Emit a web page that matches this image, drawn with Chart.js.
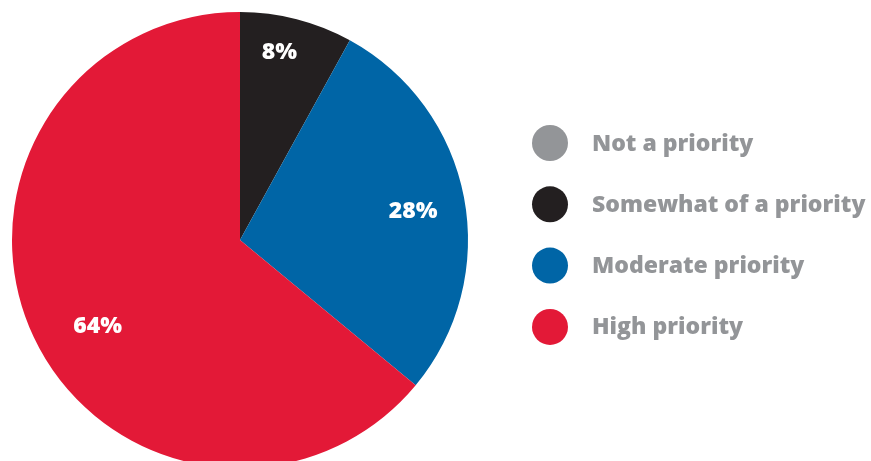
<!DOCTYPE html>
<html>
<head>
<meta charset="utf-8">
<script src="https://cdn.jsdelivr.net/npm/chart.js@4.4.0/dist/chart.umd.min.js"></script>
<style>
  html, body { margin: 0; padding: 0; background: #fff; overflow: hidden; }
  #wrap { position: relative; width: 871px; height: 480px; }
</style>
</head>
<body>
<div id="wrap"><canvas id="pie"></canvas></div>
<script>
'use strict';
let categories = ['Not a priority', 'Somewhat of a priority', 'Moderate priority', 'High priority'];
let values = [0, 8, 28, 64];
let colors = ['#939598', '#231f20', '#0065a6', '#e31937'];

// where each percent label sits: fraction of radius, and a nudge in degrees
let labelRadius = [0.8, 0.84, 0.77, 0.73];
let labelNudge = [0, -2.5, 1.3, -6];

let pctLabels = {
  id: 'pctLabels',
  afterDatasetsDraw(chart) {
    let ctx = chart.ctx;
    let meta = chart.getDatasetMeta(0);
    ctx.save();
    ctx.fillStyle = '#ffffff';
    ctx.font = '800 23px "Open Sans"';
    ctx.textAlign = 'center';
    ctx.textBaseline = 'middle';
    meta.data.forEach(function (arc, i) {
      if (!values[i]) return;
      let p = arc.getProps(['x', 'y', 'startAngle', 'endAngle', 'outerRadius']);
      let mid = (p.startAngle + p.endAngle) / 2 + labelNudge[i] * Math.PI / 180;
      let r = p.outerRadius * labelRadius[i];
      ctx.fillText(values[i] + '%', p.x + Math.cos(mid) * r, p.y + Math.sin(mid) * r);
    });
    ctx.restore();
  }
};

let sideLegend = {
  id: 'sideLegend',
  afterDraw(chart) {
    let ctx = chart.ctx;
    ctx.save();
    for (let i = 0; i < categories.length; i++) {
      let y = 143 + i * 61.3;
      ctx.beginPath();
      ctx.arc(550, y, 18, 0, Math.PI * 2);
      ctx.fillStyle = colors[i];
      ctx.fill();
      ctx.fillStyle = '#939598';
      ctx.font = '800 23px "Open Sans"';
      ctx.textAlign = 'left';
      ctx.textBaseline = 'middle';
      ctx.fillText(categories[i], 592, y + 1);
    }
    ctx.restore();
  }
};

let chart = new Chart(document.getElementById('pie'), {
  type: 'pie',
  data: {
    labels: categories,
    datasets: [{
      data: values,
      backgroundColor: colors,
      borderWidth: 0
    }]
  },
  options: {
    responsive: true,
    maintainAspectRatio: false,
    animation: false,
    layout: { padding: { left: 12, top: 12, right: 403, bottom: 12 } },
    plugins: {
      legend: { display: false },
      tooltip: { enabled: false }
    }
  },
  plugins: [pctLabels, sideLegend]
});
</script>
</body>
</html>
